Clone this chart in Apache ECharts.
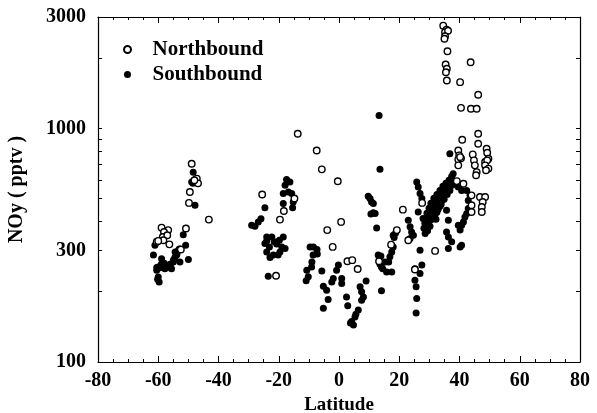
<!DOCTYPE html>
<html>
<head>
<meta charset="utf-8">
<script src="https://cdn.jsdelivr.net/npm/echarts@6/dist/echarts.min.js"></script>
<style>
  html, body { margin: 0; padding: 0; background: #fff; }
  #chart { width: 597px; height: 413px; }
</style>
</head>
<body>
<div id="chart"></div>
<script>
// NOy mixing ratio (pptv) versus latitude, split by flight direction.
const northLat = [
  -58.9, -56.7, -58.1, -58.5, -57.0, -60.5, -58.3, -56.3, -50.8, -52.5, -60.0,
  -48.9, -47.2, -46.8, -48.0, -49.5, -49.8, -43.2,
  -25.5, -14.8, -18.3, -19.6, -20.9, -13.7,
  -7.4, -5.7, -0.4, 0.7, -3.9, -2.1, 2.8, 4.4, 6.2, 13.3, 17.3, 19.2, 21.2,
  23.0, 25.2, 31.9, 27.6,
  34.6, 35.7, 35.2, 36.2, 35.2, 35.0, 36.0, 35.4, 35.8, 35.5, 35.8,
  43.7, 40.2, 46.2, 40.5, 43.8, 45.7, 46.2, 40.9, 46.2, 49.0, 44.4,
  39.6, 39.9, 39.6, 40.5, 44.8, 49.2, 49.6, 48.5, 40.2, 39.6, 45.1,
  45.7, 45.5, 49.2, 48.5, 49.6, 48.8, 39.1, 41.3, 44.0, 46.8, 48.5,
  47.7, 47.4, 47.4, 44.0, 44.0
];
const northNOy = [
  376, 367, 360, 343, 349, 327, 332, 319, 373, 303, 330,
  706, 610, 582, 600, 534, 480, 407,
  521, 501, 443, 407, 234, 949,
  805, 668, 594, 398, 367, 311, 270, 273, 250, 270, 318, 367, 449,
  332, 249, 299, 480,
  2755, 2650, 2580, 2620, 2480, 2420, 2140, 1877, 1800, 1740, 1604,
  1920, 1578, 1393, 1225, 1214, 1214, 949, 895, 860, 819, 774,
  805, 767, 737, 745, 730, 787, 742, 718, 754, 695, 695,
  650, 630, 730, 695, 673, 662, 595, 580, 517, 509, 509,
  484, 461, 439, 469, 439
];
const southLat = [
  -61.1, -51.7, -50.9, -61.6, -58.9, -60.0, -57.8, -56.1, -55.0, -53.9, -54.4,
  -53.3, -50.0, -60.0, -59.7, -52.8, -55.6, -56.7, -60.5, -59.0, -58.5, -57.5,
  -56.0, -55.0, -54.5, -53.8, -53.0, -58.0, -60.5, -59.5, -60.2,
  -48.4, -48.9, -48.5, -47.8,
  -17.4, -16.3, -17.9, -16.8, -18.5, -15.7, -15.2, -18.5, -15.4, -24.6, -25.9,
  -26.8, -29.0, -27.9, -24.0, -22.3, -18.5, -24.6, -23.1, -20.7, -19.0, -17.9,
  -24.0, -19.6, -21.8, -22.9, -20.2, -23.5, -24.0, -21.5, -19.8,
  -9.6, -8.5, -7.3, -7.2, -8.6, -9.0, -9.1, -10.7, -10.2, -10.9,
  -5.7, -0.2, -0.8, -1.9, -2.4, 0.9, 0.9, -5.2, -4.1, -3.6, -5.2, 2.5, 2.9,
  7.0, 7.5, 8.1, 7.5, 9.0, 6.4, 5.3, 4.2, 4.8, 3.8, 5.6,
  13.3, 13.6, 10.3, 10.8, 9.7, 11.4, 11.4, 10.6, 12.5, 12.0, 13.9, 13.6, 14.5,
  15.8, 17.5, 16.5, 16.9, 17.5, 18.0, 18.3, 18.8, 14.1, 18.0, 15.3, 14.1, 13.0,
  25.8, 26.3, 26.9, 27.5, 26.3, 23.0, 23.6, 24.1, 23.6, 24.7, 26.9, 25.2, 27.5,
  26.9, 25.2, 25.6, 25.8, 25.6,
  36.5, 35.5, 34.5, 35.9, 33.5, 34.9, 32.5, 33.9, 31.5, 32.9, 30.5, 31.9, 29.9,
  31.2, 29.2, 30.5, 28.9, 30.2, 28.5, 29.5, 28.2, 32.5, 33.5, 34.2, 32.2,
  35.5, 34.5, 33.5, 32.5, 31.5, 30.5, 29.5, 30.9, 31.9, 32.9, 33.9, 34.9, 35.9,
  36.8, 37.5, 29.2, 30.2, 27.9,
  28.6, 29.4, 36.8, 37.4, 37.9, 37.4, 36.8, 38.5, 39.6, 40.7,
  42.4, 43.5, 42.9, 42.9, 42.4, 41.8, 41.3, 40.7, 40.2, 39.6,
  35.7, 36.3, 35.7, 36.3, 37.4, 36.3, 40.2, 40.7
];
const southNOy = [
  316, 351, 316, 287, 277, 255, 251, 260, 273, 287, 296,
  301, 275, 231, 220, 268, 251, 255, 254, 262, 258, 256,
  262, 268, 280, 290, 305, 265, 247, 253, 226,
  650, 590, 582, 469,
  604, 590, 571, 534, 526, 526, 484, 477, 458, 458, 411,
  398, 385, 381, 343, 343, 343, 322, 311, 320, 311, 306,
  296, 296, 287, 280, 287, 233, 330, 327, 332,
  311, 311, 303, 290, 287, 268, 255, 247, 232, 223,
  245, 260, 247, 228, 220, 228, 217, 211, 203, 185, 170, 190, 174,
  210, 200, 190, 184, 222, 167, 156, 149, 144, 147, 160,
  1137, 668, 501, 484, 512, 477, 435, 430, 375, 432, 284, 262, 251,
  243, 243, 268, 282, 296, 311, 341, 357, 202, 349, 268, 255, 287,
  590, 561, 526, 501, 439, 404, 379, 360, 338, 349, 301, 251, 260,
  239, 224, 210, 187, 162,
  600, 582, 565, 554, 543, 533, 522, 507, 502, 492, 478, 469, 455,
  446, 433, 425, 412, 404, 393, 381, 374, 438, 464, 492, 408,
  543, 517, 497, 478, 460, 442, 421, 408, 429, 451, 473, 497, 522,
  543, 571, 401, 381, 412,
  355, 365, 561, 580, 640, 623, 780, 590, 561, 543,
  543, 517, 492, 454, 432, 418, 398, 385, 367, 385,
  446, 404, 360, 343, 327, 306, 311, 316
];
const yLabelValues = [100, 300, 1000, 3000];
const yTickValues = [100, 200, 300, 400, 500, 600, 700, 800, 900, 1000, 2000, 3000];

const pairs = (xs, ys) => xs.map((x, i) => [x, ys[i]]);
const serif = '"Liberation Serif", "DejaVu Serif", serif';

const chart = echarts.init(document.getElementById('chart'), null, { renderer: 'canvas' });

const frameLine = { show: true, onZero: false, lineStyle: { color: '#000', width: 1.2 } };
const tickStyle = { color: '#000', width: 1 };

chart.setOption({
  backgroundColor: '#fff',
  animation: false,
  grid: { left: 98, right: 17, top: 17, bottom: 51, outerBoundsMode: 'none', containLabel: false },
  legend: {
    data: ['Northbound', 'Southbound'],
    orient: 'vertical',
    left: 118,
    top: 34,
    itemWidth: 40,
    itemHeight: 7,
    itemGap: 4,
    selectedMode: false,
    textStyle: { fontFamily: serif, fontWeight: 'bold', fontSize: 21, color: '#000', lineHeight: 21 }
  },
  xAxis: [
    {
      type: 'value', min: -80, max: 80, interval: 20, position: 'bottom',
      axisLine: frameLine,
      axisTick: { show: true, inside: true, length: 6, lineStyle: tickStyle },
      minorTick: { show: true, splitNumber: 4, length: 3, lineStyle: tickStyle },
      splitLine: { show: false },
      axisLabel: { fontFamily: serif, fontWeight: 'bold', fontSize: 20, color: '#000', margin: 9 },
      name: 'Latitude', nameLocation: 'middle', nameGap: 31,
      nameTextStyle: { fontFamily: serif, fontWeight: 'bold', fontSize: 19, color: '#000' }
    },
    {
      type: 'value', min: -80, max: 80, interval: 20, position: 'top',
      axisLine: frameLine,
      axisTick: { show: true, inside: true, length: 6, lineStyle: tickStyle },
      minorTick: { show: true, splitNumber: 4, length: 3, lineStyle: tickStyle },
      splitLine: { show: false },
      axisLabel: { show: false }
    }
  ],
  yAxis: [
    {
      type: 'log', logBase: 10, min: 100, max: 3000, position: 'left',
      axisLine: frameLine,
      axisTick: { show: true, inside: true, length: 4, lineStyle: tickStyle, customValues: yTickValues },
      splitLine: { show: false },
      axisLabel: {
        customValues: yLabelValues,
        formatter: v => String(Math.round(v)),
        fontFamily: serif, fontWeight: 'bold', fontSize: 20, color: '#000', margin: 12
      },
      name: 'NOy ( pptv )', nameLocation: 'middle', nameGap: 71,
      nameTextStyle: { fontFamily: serif, fontWeight: 'bold', fontSize: 20, color: '#000' }
    },
    {
      type: 'log', logBase: 10, min: 100, max: 3000, position: 'right',
      axisLine: frameLine,
      axisTick: { show: true, inside: true, length: 4, lineStyle: tickStyle, customValues: yTickValues },
      splitLine: { show: false },
      axisLabel: { show: false }
    }
  ],
  series: [
    {
      name: 'Southbound', type: 'scatter', xAxisIndex: 0, yAxisIndex: 0, z: 2,
      symbol: 'circle', symbolSize: 7,
      itemStyle: { color: '#000', opacity: 1 },
      data: pairs(southLat, southNOy)
    },
    {
      name: 'Northbound', type: 'scatter', xAxisIndex: 0, yAxisIndex: 0, z: 3,
      symbol: 'circle', symbolSize: 6.5,
      itemStyle: { color: '#fff', borderColor: '#000', borderWidth: 1.4, opacity: 1 },
      data: pairs(northLat, northNOy)
    }
  ]
});
</script>
</body>
</html>
